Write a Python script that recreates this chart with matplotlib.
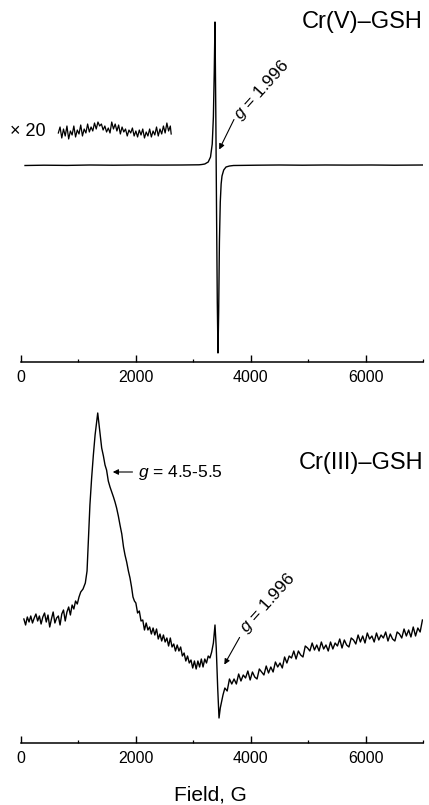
import matplotlib.pyplot as plt
import numpy as np

plt.rcParams['font.family'] = ['Liberation Sans', 'DejaVu Sans']
plt.rcParams['mathtext.fontset'] = 'custom'
plt.rcParams['mathtext.it'] = 'Liberation Sans:italic'
plt.rcParams['mathtext.rm'] = 'Liberation Sans'

# ---- Cr(V)-GSH spectrum (field in G, signal in arbitrary units) ----
top_field_left = [70, 400, 800, 1200, 1600, 2000, 2400, 2800, 3100, 3150]
top_signal_left = [196.5, 196.8, 196.6, 197, 196.8, 197, 196.9, 197, 197.2, 197.5]
top_field_line = [3200, 3260, 3300, 3330, 3350, 3365, 3378, 3392, 3405, 3418, 3430,
                  3442, 3455, 3470, 3485, 3500, 3530, 3570, 3630]
top_signal_line = [198, 200, 205, 218, 245, 290, 340, 250, 150, 60, 9,
                   50, 120, 160, 178, 186, 192, 195, 196]
top_field_right = [3700, 4100, 4500, 4900, 5300, 5700, 6100, 6500, 7000]
top_signal_right = [196.5, 196.8, 197, 196.8, 197, 196.9, 197, 196.8, 197]

# x20 expanded baseline segment
inset_field = [650, 680, 710, 740, 770, 800, 830, 860, 890, 920, 950, 980, 1010, 1040,
               1070, 1100, 1130, 1160, 1190, 1220, 1250, 1280, 1310, 1340, 1370, 1400,
               1430, 1460, 1490, 1520, 1550, 1580, 1610, 1640, 1670, 1700, 1730, 1760,
               1790, 1820, 1850, 1880, 1910, 1940, 1970, 2000, 2030, 2060, 2090, 2120,
               2150, 2180, 2210, 2240, 2270, 2300, 2330, 2360, 2390, 2420, 2450, 2480,
               2510, 2540, 2570, 2600, 2615]
inset_signal = [229, 235, 224, 233, 226, 236, 223, 231, 227, 236, 225, 232, 228, 237,
                226, 233, 229, 238, 230, 235, 231, 239, 233, 240, 236, 238, 232, 236,
                230, 234, 229, 240, 233, 238, 231, 237, 228, 235, 230, 233, 226, 232,
                229, 234, 226, 231, 225, 232, 227, 233, 224, 230, 226, 233, 225, 231,
                227, 235, 226, 233, 228, 236, 229, 239, 231, 236, 228]

# ---- Cr(III)-GSH spectrum ----
bot_field_a = [50, 80, 110, 140, 170, 200, 230, 260, 290, 320, 350, 380, 410, 440, 470,
               500, 530, 560, 590, 620, 650, 680, 710, 740, 770, 800, 830, 860, 890, 920,
               950, 980]
bot_signal_a = [124, 118, 126, 121, 127, 120, 125, 129, 122, 127, 119, 126, 130, 121, 128,
                116, 124, 131, 120, 125, 127, 118, 129, 133, 122, 131, 136, 128, 138, 134,
                142, 139]
bot_field_b = [1010, 1040, 1080, 1120, 1150, 1175, 1200, 1230, 1260, 1290, 1315, 1336,
               1360, 1385, 1405, 1435, 1463, 1490, 1520, 1550, 1580, 1610, 1637, 1665,
               1695, 1724, 1755, 1785, 1811, 1840, 1870, 1898, 1925, 1950, 1975]
bot_signal_b = [146, 151, 154, 160, 172, 205, 238, 265, 288, 308, 320, 330,
                318, 305, 295, 287, 278, 273, 262, 256, 251, 246, 241, 235,
                227, 218, 209, 196, 188, 181, 172, 165, 156, 146, 142]
bot_field_c = [2000, 2030, 2060, 2090, 2120, 2150, 2180, 2210, 2240, 2270, 2300, 2330,
               2360, 2390, 2420, 2450, 2480, 2510, 2540, 2570, 2600, 2630, 2660, 2690,
               2720, 2750, 2780, 2810, 2840, 2870, 2900, 2930, 2960, 2990, 3020, 3050,
               3080, 3110, 3140, 3170, 3200, 3230, 3260, 3290, 3320]
bot_signal_c = [140, 130, 132, 122, 123, 113, 120, 113, 116, 109, 115, 108,
                114, 104, 109, 102, 108, 101, 105, 97, 105, 96, 99, 92,
                98, 92, 96, 87, 90, 82, 87, 80, 83, 75, 82, 74,
                82, 76, 84, 76, 84, 80, 87, 85, 91]
bot_field_d = [3350, 3378, 3400, 3425, 3448, 3470, 3495, 3517]
bot_signal_d = [100, 118, 95, 55, 25, 35, 42, 48]
bot_field_e = [3550, 3590, 3630, 3670, 3710, 3750, 3790, 3830, 3870, 3910, 3950, 3990,
               4030, 4070, 4110, 4150, 4190, 4230, 4270, 4310, 4350, 4390, 4430, 4470,
               4510, 4550, 4590, 4630, 4670, 4710, 4750, 4790, 4830, 4870, 4910, 4950,
               4990, 5030, 5070, 5110, 5150, 5190, 5230, 5270, 5310, 5350, 5390, 5430,
               5470, 5510, 5550, 5590, 5630, 5670, 5710, 5750, 5790, 5830, 5870, 5910,
               5950, 5990, 6030, 6070, 6110, 6150, 6190, 6230, 6270, 6310, 6350, 6390,
               6430, 6470, 6510, 6550, 6590, 6630, 6670, 6710, 6750, 6790, 6830, 6870,
               6910, 6950, 6990]
bot_signal_e = [55, 52, 64, 59, 64, 59, 69, 62, 68, 65, 72, 63,
                71, 66, 64, 74, 71, 68, 77, 70, 76, 71, 81, 76,
                80, 75, 86, 80, 87, 85, 92, 84, 92, 88, 86, 97,
                95, 92, 100, 93, 98, 92, 101, 94, 98, 92, 101, 94,
                100, 97, 104, 95, 103, 98, 96, 105, 103, 99, 108, 101,
                107, 100, 110, 104, 107, 101, 110, 103, 108, 105, 111, 102,
                109, 104, 102, 111, 109, 105, 114, 107, 113, 106, 116, 107,
                115, 111, 123]

major_ticks = [0, 2000, 4000, 6000]
minor_ticks = [1000, 3000, 5000, 7000]

top_field = top_field_left + top_field_line + top_field_right
top_signal = top_signal_left + top_signal_line + top_signal_right
bot_field = bot_field_a + bot_field_b + bot_field_c + bot_field_d + bot_field_e
bot_signal = bot_signal_a + bot_signal_b + bot_signal_c + bot_signal_d + bot_signal_e

W, H = 429, 805
fig = plt.figure(figsize=(W / 100, H / 100), dpi=100)
ax1 = fig.add_axes([21 / W, 1 - 362 / H, 402 / W, 352 / H])
ax2 = fig.add_axes([21 / W, 1 - 743 / H, 402 / W, 343 / H])


def style(ax, ytop):
    ax.set_xlim(0, 7000)
    ax.set_ylim(0, ytop)
    for s in ['left', 'top', 'right']:
        ax.spines[s].set_visible(False)
    ax.spines['bottom'].set_linewidth(1.1)
    ax.set_yticks([])
    ax.set_xticks(major_ticks)
    ax.set_xticks(minor_ticks, minor=True)
    ax.tick_params(axis='x', which='major', direction='in', length=5, width=1.0,
                   labelsize=11.5, pad=6)
    ax.tick_params(axis='x', which='minor', direction='in', length=2.5, width=0.9)


style(ax1, 352)
style(ax2, 343)

ax1.plot(top_field, top_signal, color='black', lw=1.0)
ax1.plot(inset_field, inset_signal, color='black', lw=0.9)
ax1.text(-190, 230, '× 20', fontsize=13, va='center', ha='left', clip_on=False)
ax1.text(1.0, 340, 'Cr(V)–GSH', transform=ax1.get_yaxis_transform(), fontsize=17,
         ha='right', va='center')
ax1.annotate('', xy=(3430, 210), xytext=(3730, 245),
             arrowprops=dict(arrowstyle='-|>', color='black', lw=0.8, mutation_scale=8))
ax1.text(3760, 244, r'$g$ = 1.996', fontsize=12.5, rotation=48, rotation_mode='anchor',
         ha='left', va='center')

ax2.plot(bot_field, bot_signal, color='black', lw=1.0)
ax2.text(1.0, 280, 'Cr(III)–GSH', transform=ax2.get_yaxis_transform(), fontsize=17,
         ha='right', va='center')
ax2.annotate('', xy=(1550, 271), xytext=(1990, 271),
             arrowprops=dict(arrowstyle='-|>', color='black', lw=0.8, mutation_scale=8))
ax2.text(2030, 271, r'$g$ = 4.5-5.5', fontsize=12.5, ha='left', va='center')
ax2.annotate('', xy=(3517, 76), xytext=(3830, 108),
             arrowprops=dict(arrowstyle='-|>', color='black', lw=0.8, mutation_scale=8))
ax2.text(3870, 112, r'$g$ = 1.996', fontsize=12.5, rotation=48, rotation_mode='anchor',
         ha='left', va='center')

fig.text(210 / W, 1 - 795 / H, 'Field, G', fontsize=15, ha='center', va='center')

fig.savefig('out.png', dpi=100)
